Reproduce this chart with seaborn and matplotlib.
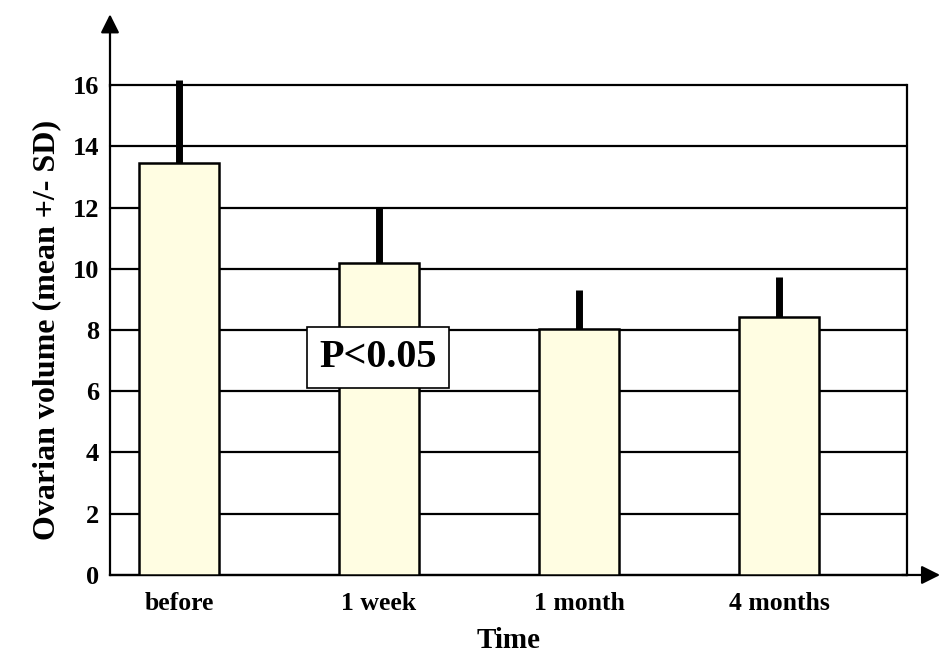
import pandas as pd
import numpy as np
import matplotlib
matplotlib.use("Agg")
import matplotlib.pyplot as plt
import seaborn as sns

# ---------------------------------------------------------------------------
# Data
# ---------------------------------------------------------------------------
TIMEPOINTS = ["before", "1 week", "1 month", "4 months"]
MEAN_VOLUME = [13.45, 10.2, 8.03, 8.43]
SD_VOLUME = [2.7, 1.83, 1.27, 1.3]
Y_TICKS = [0, 2, 4, 6, 8, 10, 12, 14, 16]

BAR_COLOR = "#FFFDE2"

sns.set_theme(style="white")
plt.rcParams["font.family"] = ["Liberation Serif", "DejaVu Serif"]
plt.rcParams["font.weight"] = "bold"
plt.rcParams["text.color"] = "black"
plt.rcParams["axes.labelcolor"] = "black"
plt.rcParams["xtick.color"] = "black"
plt.rcParams["ytick.color"] = "black"

df = pd.DataFrame({"time": TIMEPOINTS, "volume": MEAN_VOLUME, "sd": SD_VOLUME})

fig = plt.figure(figsize=(9.45, 6.59), dpi=100)
ax = fig.add_axes([0.1164, 0.1275, 0.8434, 0.7435])

sns.barplot(data=df, x="time", y="volume", order=TIMEPOINTS, color=BAR_COLOR,
            edgecolor="black", linewidth=1.8, width=0.4, errorbar=None,
            saturation=1, ax=ax, zorder=3)

# upper-only SD whiskers
ax.errorbar(np.arange(len(TIMEPOINTS)), df["volume"],
            yerr=[np.zeros(len(df)), df["sd"]], fmt="none",
            ecolor="black", elinewidth=5, capsize=0, zorder=4, clip_on=False)

ax.set_ylim(0, 16)
ax.set_xlim(-0.345, 3.64)
ax.set_yticks(Y_TICKS)
ax.yaxis.grid(True, color="black", linewidth=1.6)
for gl in ax.get_ygridlines():
    gl.set_clip_on(False)
ax.set_axisbelow(True)

for side in ["left", "bottom", "right"]:
    ax.spines[side].set_color("black")
    ax.spines[side].set_linewidth(1.6)
ax.spines["top"].set_visible(False)

ax.tick_params(axis="y", length=4, width=1.2, labelsize=19, pad=4)
ax.tick_params(axis="x", length=0, labelsize=18.5, pad=12)
for lbl in ax.get_xticklabels() + ax.get_yticklabels():
    lbl.set_fontweight("bold")

ax.set_xlabel("Time", fontsize=21, fontweight="bold", labelpad=9)
ax.set_ylabel("Ovarian volume (mean +/- SD)", fontsize=23, fontweight="bold",
              labelpad=8)

# axis arrows
arrow = dict(arrowstyle="-|>", color="black", lw=1.6, mutation_scale=28)
ax.annotate("", xy=(0, 1.15), xytext=(0, 0.99), xycoords="axes fraction",
            arrowprops=arrow)
ax.annotate("", xy=(1.045, 0), xytext=(0.99, 0), xycoords="axes fraction",
            arrowprops=arrow)

ax.text(0.995, 7.1, "P<0.05", fontsize=29, fontweight="bold", ha="center",
        va="center", zorder=5,
        bbox=dict(boxstyle="square,pad=0.3", facecolor="white",
                  edgecolor="black", linewidth=1.2))

fig.savefig("out.png", dpi=100)
plt.close(fig)
